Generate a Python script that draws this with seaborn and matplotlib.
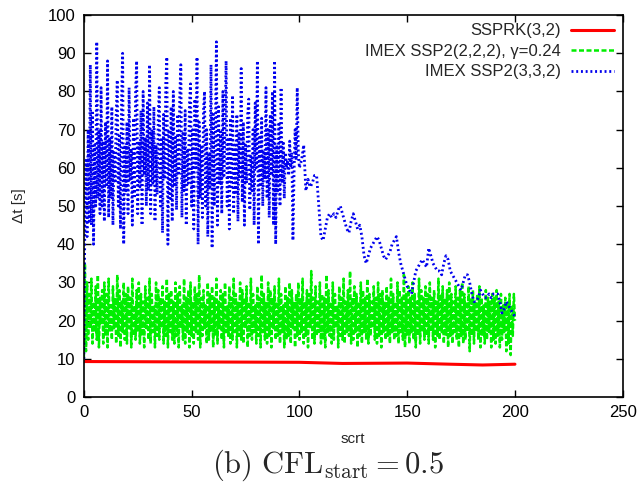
import numpy as np
import pandas as pd
import matplotlib
matplotlib.use("Agg")
import matplotlib.pyplot as plt
import seaborn as sns

# IMEX SSP2(3,3,2): dense part, x = 0..100 step 0.5
blue_head = [
    10, 48, 62, 42, 70, 46, 87, 45, 75, 40, 66, 50, 93, 52, 70, 48, 81, 50, 67, 46,
    72, 55, 88, 47, 68, 52, 76, 45, 64, 56, 74, 83, 50, 69, 44, 78, 90, 40, 66, 54,
    72, 48, 81, 57, 65, 45, 73, 52, 80, 88, 48, 67, 55, 75, 45, 80, 58, 68, 50, 77,
    54, 87, 48, 70, 56, 76, 46, 66, 53, 73, 81, 50, 68, 43, 74, 57, 82, 89, 40, 70,
    52, 76, 46, 80, 55, 68, 49, 74, 58, 79, 87, 47, 69, 54, 75, 45, 65, 56, 77, 82,
    50, 70, 44, 78, 60, 89, 40, 72, 52, 66, 47, 75, 80, 50, 70, 42, 64, 55, 87, 39,
    74, 50, 68, 93, 45, 76, 56, 70, 48, 80, 58, 71, 88, 50, 68, 44, 73, 55, 79, 48,
    66, 53, 74, 46, 69, 57, 86, 51, 72, 45, 66, 56, 74, 78, 49, 63, 54, 70, 45, 77,
    60, 88, 40, 68, 55, 73, 50, 64, 57, 81, 52, 70, 47, 74, 58, 80, 45, 88, 40, 66,
    54, 72, 50, 81, 56, 67, 52, 64, 60, 62, 58, 67, 60, 64, 41, 58, 70, 62, 81, 64,
    60,
]
# smoother tail, x = 101..200 step 1
blue_tail = [
    62, 66, 54, 57, 55, 56, 58, 58, 50, 42, 41, 44, 47, 48, 47, 48, 47, 49, 50, 48,
    46, 44, 43, 46, 48, 46, 44, 45, 42, 37, 35, 37, 39, 40, 41, 42, 41, 39, 37, 36,
    37, 38, 40, 41, 42, 38, 35, 33, 31, 29, 28, 27, 30, 33, 34, 35, 36, 35, 34, 39,
    37, 35, 34, 33, 33, 32, 35, 37, 36, 33, 32, 31, 30, 29, 28, 30, 32, 32, 30, 27,
    25, 25, 26, 28, 27, 26, 26, 27, 26, 27, 27, 27, 25, 22, 23, 25, 24, 23, 22, 21,
]

# IMEX SSP2(2,2,2), gamma=0.24: x = 0..200 step 0.5
green = [
    10, 35, 12, 30, 15, 27, 18, 31, 14, 25, 17, 29, 15, 32, 13, 26, 19, 28, 14, 30,
    16, 27, 13, 31, 17, 24, 15, 29, 18, 26, 14, 32, 16, 28, 13, 25, 17, 30, 15, 27,
    14, 29, 18, 26, 13, 31, 16, 24, 15, 28, 17, 30, 14, 27, 16, 25, 13, 29, 18, 26,
    15, 31, 14, 27, 17, 24, 13, 30, 16, 28, 15, 26, 18, 29, 14, 25, 16, 31, 13, 27,
    17, 28, 15, 25, 14, 30, 16, 27, 13, 29, 18, 24, 15, 31, 14, 26, 17, 28, 13, 30,
    16, 25, 14, 29, 17, 27, 15, 32, 13, 26, 16, 28, 18, 24, 14, 30, 15, 27, 17, 29,
    13, 26, 16, 31, 14, 25, 18, 28, 15, 27, 13, 30, 17, 24, 16, 29, 14, 26, 15, 31,
    17, 27, 13, 25, 16, 30, 15, 28, 14, 26, 18, 29, 13, 25, 16, 31, 15, 27, 17, 24,
    14, 29, 16, 26, 13, 32, 17, 27, 15, 25, 14, 30, 16, 28, 13, 26, 18, 29, 15, 25,
    16, 31, 14, 27, 17, 24, 13, 29, 15, 26, 16, 30, 14, 28, 18, 25, 13, 27, 16, 30,
    15, 26, 17, 31, 14, 25, 16, 28, 13, 27, 18, 33, 15, 26, 14, 29, 16, 25, 17, 30,
    14, 27, 15, 26, 13, 32, 17, 28, 16, 25, 14, 30, 15, 27, 18, 24, 13, 29, 16, 26,
    15, 31, 14, 25, 17, 28, 16, 33, 14, 26, 15, 29, 17, 27, 13, 25, 16, 30, 14, 28,
    17, 26, 15, 31, 14, 27, 16, 25, 18, 29, 15, 26, 14, 30, 16, 27, 13, 28, 17, 25,
    15, 29, 16, 26, 14, 31, 17, 27, 15, 25, 16, 30, 14, 28, 17, 26, 15, 32, 13, 27,
    16, 29, 14, 26, 17, 30, 15, 27, 13, 25, 16, 31, 14, 28, 17, 26, 15, 29, 16, 27,
    14, 30, 17, 26, 15, 28, 13, 25, 16, 31, 15, 27, 17, 29, 14, 26, 16, 28, 13, 30,
    16, 27, 14, 25, 17, 29, 15, 26, 13, 28, 16, 30, 14, 27, 15, 25, 17, 29, 12, 26,
    16, 28, 14, 25, 17, 27, 15, 29, 13, 26, 16, 24, 14, 28, 15, 26, 17, 25, 13, 27,
    15, 26, 14, 28, 16, 25, 13, 27, 15, 24, 17, 26, 12, 25, 14, 27, 11, 24, 16, 27,
    20,
]

# SSPRK(3,2)
red_x = [0, 50, 100, 120, 150, 170, 185, 200]
red = [9.3, 9.2, 9.1, 8.8, 8.9, 8.6, 8.4, 8.6]

blue_x = np.concatenate([np.arange(0, 100.5, 0.5), np.arange(101, 201, 1)])
green_x = np.arange(0, 200.5, 0.5)

df_red = pd.DataFrame({"scrt": red_x, "dt": red})
df_green = pd.DataFrame({"scrt": green_x, "dt": green})
df_blue = pd.DataFrame({"scrt": blue_x, "dt": blue_head + blue_tail})

sns.set_style("ticks")
plt.rcParams["font.family"] = ["Liberation Sans", "DejaVu Sans"]
plt.rcParams["mathtext.fontset"] = "cm"

fig = plt.figure(figsize=(6.4, 4.86), dpi=100)
ax = fig.add_axes([0.131, 0.183, 0.842, 0.786])

sns.lineplot(data=df_red, x="scrt", y="dt", color="#ff0000", linewidth=2.2,
             estimator=None, sort=False, ax=ax, label="SSPRK(3,2)")
sns.lineplot(data=df_green, x="scrt", y="dt", color="#00ee00", linewidth=1.8,
             estimator=None, sort=False, ax=ax, label="IMEX SSP2(2,2,2), γ=0.24")
sns.lineplot(data=df_blue, x="scrt", y="dt", color="#0000ee", linewidth=2.0,
             estimator=None, sort=False, ax=ax, label="IMEX SSP2(3,3,2)")
ax.lines[1].set_dashes([2.0, 1.0])
ax.lines[2].set_dashes([0.7, 1.0])

ax.set_xlim(0, 250)
ax.set_ylim(0, 100)
ax.set_xticks(range(0, 251, 50))
ax.set_yticks(range(0, 101, 10))
ax.tick_params(direction="in", length=5, width=1, top=True, right=True,
               labelsize=12, colors="black", pad=6)
for s in ax.spines.values():
    s.set_linewidth(1.2)
    s.set_color("black")
ax.set_xlabel("scrt", fontsize=11, labelpad=8)
ax.set_ylabel("Δt [s]", fontsize=11, labelpad=16)

leg = ax.legend(loc="upper right", frameon=False, markerfirst=False, fontsize=12,
                handlelength=2.6, handletextpad=0.6, labelspacing=0.33,
                borderaxespad=0.2, borderpad=0.3, alignment="right")
for t in leg.get_texts():
    t.set_ha("right")
leg.get_lines()[1].set_dashes([2.0, 1.0])
leg.get_lines()[2].set_dashes([0.7, 1.0])

fig.text(0.513, 0.027, r"$\mathrm{(b)\ CFL_{start}} = 0.5$", ha="center",
         va="baseline", fontsize=22)

fig.savefig("out.png", dpi=100)
